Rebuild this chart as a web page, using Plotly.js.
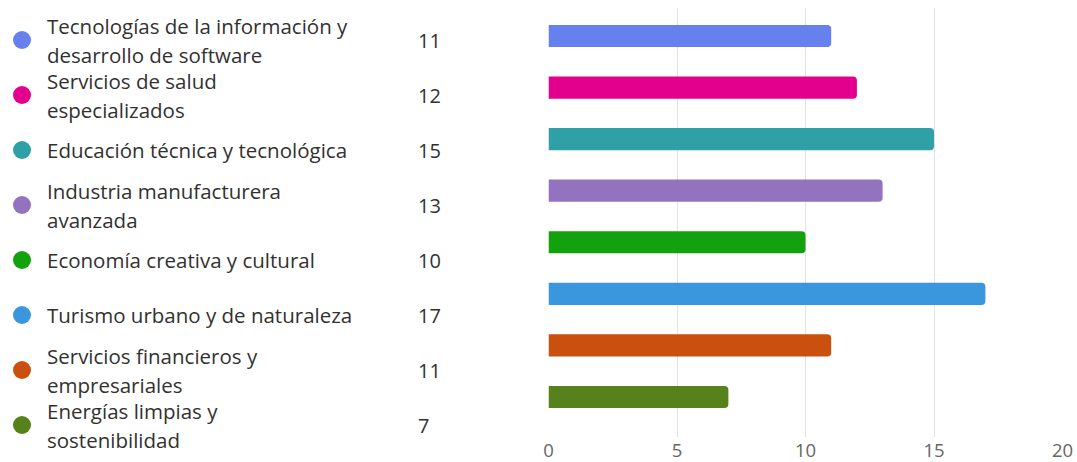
<!DOCTYPE html>
<html>
<head>
<meta charset="utf-8">
<script src="https://cdn.plot.ly/plotly-3.0.1.min.js"></script>
<style>
html,body{margin:0;padding:0;background:#fff;}
#chart{width:1077px;height:462px;}
</style>
</head>
<body>
<div id="chart"></div>
<script>
// ---- data ----
const categories = [
  ["Tecnologías de la información y", "desarrollo de software"],
  ["Servicios de salud", "especializados"],
  ["Educación técnica y tecnológica"],
  ["Industria manufacturera", "avanzada"],
  ["Economía creativa y cultural"],
  ["Turismo urbano y de naturaleza"],
  ["Servicios financieros y", "empresariales"],
  ["Energías limpias y", "sostenibilidad"]
];
const values = [11, 12, 15, 13, 10, 17, 11, 7];
const colors = ["#6680EE", "#E3008C", "#2EA0A6", "#9372C0", "#13A10E", "#3A96DD", "#CA5010", "#57811B"];
const tickValues = [0, 5, 10, 15, 20];

// ---- styles ----
const FONT = "Open Sans, Noto Sans, sans-serif";
const textColor = "#323130";
const idx = values.map((_, i) => i);

const bars = {
  type: "bar",
  orientation: "h",
  x: values,
  y: idx,
  xaxis: "x",
  yaxis: "y",
  width: 0.43,
  marker: { color: colors, cornerradius: 4 },
  hoverinfo: "skip",
  showlegend: false
};

const dots = {
  type: "scatter",
  mode: "markers",
  x: idx.map(() => 22),
  y: idx,
  xaxis: "x2",
  yaxis: "y2",
  marker: { color: colors, size: 18 },
  hoverinfo: "skip",
  showlegend: false
};

const annotations = [];
categories.forEach((lines, i) => {
  const n = lines.length;
  lines.forEach((line, j) => {
    annotations.push({
      xref: "x2", yref: "y2", x: 45, y: i,
      text: line, showarrow: false,
      xanchor: "left", yanchor: "middle",
      yshift: n === 1 ? 0 : (j === 0 ? 14.5 : -14.5),
      font: { family: FONT, size: 20.5, color: textColor }
    });
  });
  annotations.push({
    xref: "x2", yref: "y2", x: 416, y: i,
    text: String(values[i]), showarrow: false,
    xanchor: "left", yanchor: "middle",
    font: { family: FONT, size: 20, color: textColor }
  });
});

const layout = {
  width: 1077,
  height: 462,
  margin: { l: 0, r: 0, t: 8, b: 25 },
  paper_bgcolor: "#fff",
  plot_bgcolor: "#fff",
  font: { family: FONT, color: textColor },
  xaxis: {
    domain: [548.5 / 1077, 1062.5 / 1077],
    range: [0, 20],
    tickvals: tickValues,
    ticktext: tickValues.map(String),
    showgrid: true,
    gridcolor: "#e3e3e3",
    gridwidth: 1,
    zeroline: false,
    showline: false,
    ticks: "",
    ticklabelstandoff: 0,
    tickfont: { family: FONT, size: 18.5, color: "#666666" },
    anchor: "y",
    fixedrange: true
  },
  yaxis: {
    range: [7.776, -0.543],
    showgrid: false,
    zeroline: false,
    showticklabels: false,
    anchor: "x",
    fixedrange: true
  },
  xaxis2: {
    domain: [0, 0.45],
    range: [0, 484.65],
    visible: false,
    anchor: "y2",
    fixedrange: true
  },
  yaxis2: {
    range: [7.218, -0.582],
    visible: false,
    anchor: "x2",
    fixedrange: true
  },
  annotations: annotations
};

Plotly.newPlot("chart", [bars, dots], layout, { displayModeBar: false, staticPlot: true });
</script>
</body>
</html>
